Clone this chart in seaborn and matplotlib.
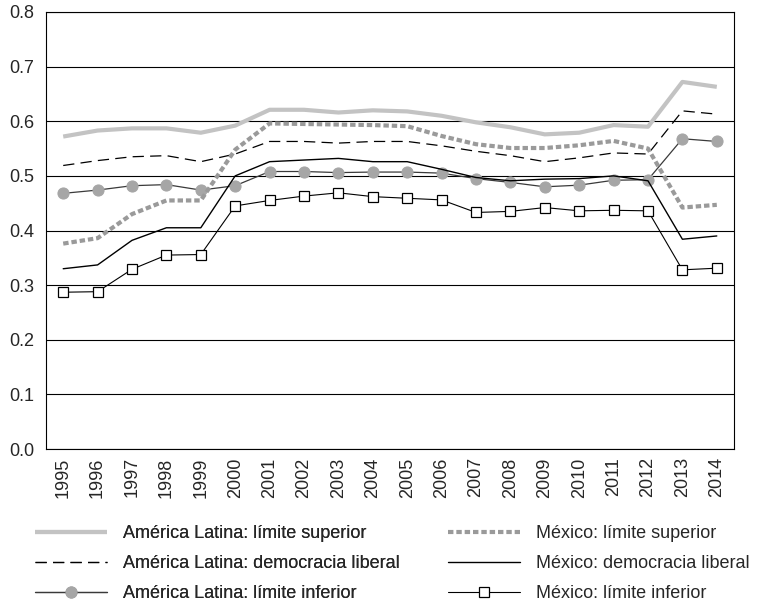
import matplotlib
matplotlib.use("Agg")
import matplotlib.pyplot as plt
import seaborn as sns
import numpy as np

years = [str(y) for y in range(1995, 2015)]

al_superior = [0.572, 0.583, 0.587, 0.587, 0.579, 0.592, 0.621, 0.621, 0.616, 0.620,
               0.618, 0.610, 0.598, 0.589, 0.576, 0.579, 0.593, 0.590, 0.672, 0.663]
al_democracia = [0.519, 0.528, 0.535, 0.537, 0.526, 0.540, 0.563, 0.563, 0.560, 0.563,
                 0.563, 0.555, 0.545, 0.537, 0.526, 0.533, 0.542, 0.540, 0.619, 0.613]
al_inferior = [0.468, 0.474, 0.482, 0.484, 0.474, 0.482, 0.508, 0.508, 0.506, 0.507,
               0.507, 0.505, 0.495, 0.488, 0.480, 0.483, 0.492, 0.493, 0.568, 0.563]
mx_superior = [0.376, 0.386, 0.430, 0.455, 0.455, 0.548, 0.596, 0.595, 0.594, 0.593,
               0.591, 0.573, 0.558, 0.551, 0.551, 0.556, 0.564, 0.550, 0.442, 0.447]
mx_democracia = [0.330, 0.337, 0.382, 0.405, 0.405, 0.500, 0.526, 0.529, 0.532, 0.526,
                 0.526, 0.512, 0.497, 0.491, 0.494, 0.495, 0.500, 0.491, 0.384, 0.390]
mx_inferior = [0.287, 0.288, 0.329, 0.355, 0.356, 0.445, 0.455, 0.463, 0.469, 0.462,
               0.459, 0.456, 0.433, 0.435, 0.442, 0.436, 0.437, 0.436, 0.328, 0.331]

labels = ["América Latina: límite superior", "América Latina: democracia liberal",
          "América Latina: límite inferior", "México: límite superior",
          "México: democracia liberal", "México: límite inferior"]
y_ticks = [0.0, 0.1, 0.2, 0.3, 0.4, 0.5, 0.6, 0.7, 0.8]

sns.set_style("white")
plt.rcParams["font.family"] = ["Liberation Sans", "DejaVu Sans"]

fig = plt.figure(figsize=(7.58, 6.01), dpi=100)
ax = fig.add_axes([46 / 758, 1 - 449 / 601, (734 - 46) / 758, (449 - 12) / 601])

x = np.arange(len(years))

styles = [
    (al_superior, dict(color="#c3c3c3", linewidth=3.0, solid_capstyle="butt")),
    (al_democracia, dict(color="black", linewidth=0.9, dashes=(9, 5))),
    (al_inferior, dict(color="#3a3a3a", linewidth=0.9, marker="o", markersize=8,
                       markerfacecolor="#a6a6a6", markeredgecolor="#a6a6a6")),
    (mx_superior, dict(color="#9a9a9a", linewidth=3.0, dashes=(1.3, 0.7))),
    (mx_democracia, dict(color="black", linewidth=1.0)),
    (mx_inferior, dict(color="black", linewidth=0.8, marker="s", markersize=7,
                       markerfacecolor="white", markeredgecolor="black",
                       markeredgewidth=0.9)),
]

for (vals, kw), lab in zip(styles, labels):
    sns.lineplot(x=x, y=vals, ax=ax, label=lab, **kw)

ax.set_xlim(-0.5, len(years) - 0.5)
ax.set_ylim(0, 0.8)
ax.set_yticks(y_ticks)
ax.set_yticklabels([f"{v:.1f}" for v in y_ticks])
ax.yaxis.grid(True, color="black", linewidth=0.8)
ax.set_axisbelow(True)
ax.set_xticks(np.arange(-0.5, len(years), 1.0))
ax.set_xticklabels([])
ax.set_xticks(x, minor=True)
ax.set_xticklabels(years, minor=True, rotation=90, fontsize=13)
ax.tick_params(axis="x", which="minor", length=0, pad=6)
ax.tick_params(axis="x", which="major", length=5, width=0.8, direction="out", color="black")
ax.tick_params(axis="y", length=5, width=0.8, direction="out", labelsize=13, color="black")
for s in ax.spines.values():
    s.set_color("black")
    s.set_linewidth(0.8)
ax.set_xlabel("")
ax.set_ylabel("")

leg_h, leg_l = ax.get_legend_handles_labels()
ax.get_legend().remove()
common = dict(loc="upper left", frameon=False, fontsize=13, handlelength=4.0,
              handletextpad=0.9, labelspacing=0.72, borderpad=0, borderaxespad=0)
top = 1 - 525 / 601
leg1 = fig.legend(leg_h[:3], leg_l[:3], bbox_to_anchor=(35 / 758, top), **common)
fig.add_artist(leg1)
fig.legend(leg_h[3:], leg_l[3:], bbox_to_anchor=(448 / 758, top), **common)

fig.savefig("out.png", dpi=100)
